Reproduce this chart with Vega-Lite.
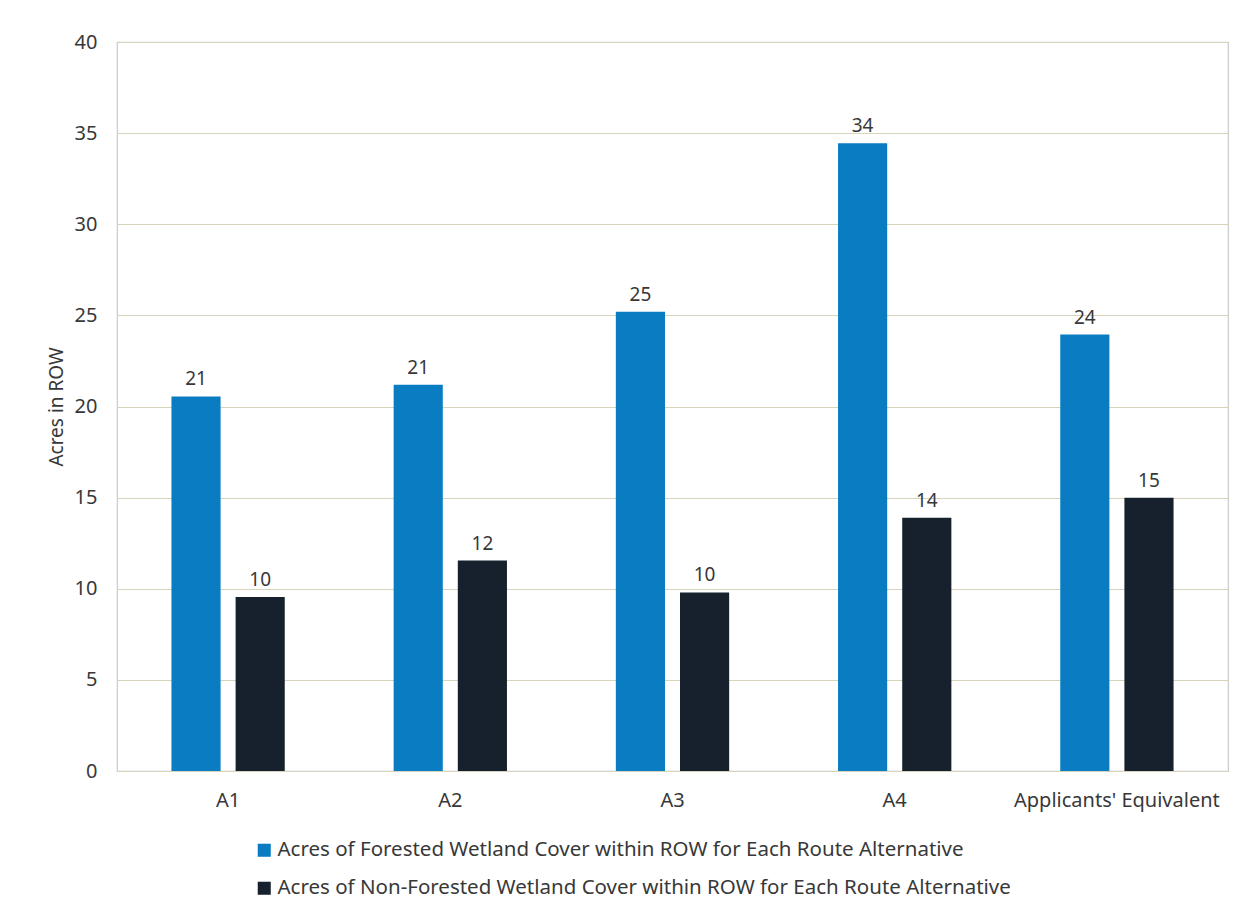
{
  "$schema": "https://vega.github.io/schema/vega-lite/v6.json",
  "width": 1111,
  "height": 729,
  "autosize": "none",
  "padding": {"left": 117, "top": 42, "right": 14, "bottom": 142},
  "background": "#ffffff",
  "config": {
    "font": "Noto Sans",
    "view": {"stroke": "#c9c9c9", "strokeWidth": 1.2}
  },
  "data": {
    "values": [
      {"route": "A1", "series": "Acres of Forested Wetland Cover within ROW for Each Route Alternative", "acres": 20.55},
      {"route": "A1", "series": "Acres of Non-Forested Wetland Cover within ROW for Each Route Alternative", "acres": 9.55},
      {"route": "A2", "series": "Acres of Forested Wetland Cover within ROW for Each Route Alternative", "acres": 21.2},
      {"route": "A2", "series": "Acres of Non-Forested Wetland Cover within ROW for Each Route Alternative", "acres": 11.55},
      {"route": "A3", "series": "Acres of Forested Wetland Cover within ROW for Each Route Alternative", "acres": 25.2},
      {"route": "A3", "series": "Acres of Non-Forested Wetland Cover within ROW for Each Route Alternative", "acres": 9.8},
      {"route": "A4", "series": "Acres of Forested Wetland Cover within ROW for Each Route Alternative", "acres": 34.45},
      {"route": "A4", "series": "Acres of Non-Forested Wetland Cover within ROW for Each Route Alternative", "acres": 13.9},
      {"route": "Applicants' Equivalent", "series": "Acres of Forested Wetland Cover within ROW for Each Route Alternative", "acres": 23.95},
      {"route": "Applicants' Equivalent", "series": "Acres of Non-Forested Wetland Cover within ROW for Each Route Alternative", "acres": 15.0}
    ]
  },
  "encoding": {
    "x": {
      "field": "route", "type": "nominal", "sort": null,
      "scale": {"paddingInner": 0.49, "paddingOuter": 0.245},
      "axis": {"title": null, "labelAngle": 0, "ticks": false, "domain": false, "labelFontSize": 20, "labelColor": "#383838", "labelPadding": 19, "labelLimit": 400}
    },
    "xOffset": {
      "field": "series", "type": "nominal", "sort": null,
      "scale": {"paddingInner": 0.234, "paddingOuter": 0}
    },
    "y": {
      "field": "acres", "type": "quantitative",
      "scale": {"domain": [0, 40], "nice": false},
      "axis": {"title": "Acres in ROW", "titleFontSize": 19, "titleFontWeight": "normal", "titleColor": "#383838", "titlePadding": 8, "values": [0, 5, 10, 15, 20, 25, 30, 35, 40], "labelOverlap": false, "labelFontSize": 20, "labelColor": "#383838", "labelPadding": 20, "ticks": false, "domain": false, "gridColor": "#d8d4bc", "gridWidth": 1.2}
    }
  },
  "layer": [
    {
      "mark": {"type": "bar"},
      "encoding": {
        "color": {
          "field": "series", "type": "nominal", "sort": null,
          "scale": {"range": ["#0a7dc2", "#17212e"]},
          "legend": {"title": null, "orient": "none", "legendX": 137, "legendY": 798, "direction": "vertical", "symbolType": "square", "symbolSize": 170, "labelFontSize": 20.5, "labelColor": "#383838", "rowPadding": 17, "labelOffset": 3, "labelLimit": 1000, "symbolStrokeWidth": 0}
        }
      }
    },
    {
      "mark": {"type": "text", "baseline": "bottom", "dy": -7, "fontSize": 19, "color": "#383838"},
      "encoding": {
        "text": {"field": "acres", "type": "quantitative", "format": ".0f"}
      }
    }
  ]
}
